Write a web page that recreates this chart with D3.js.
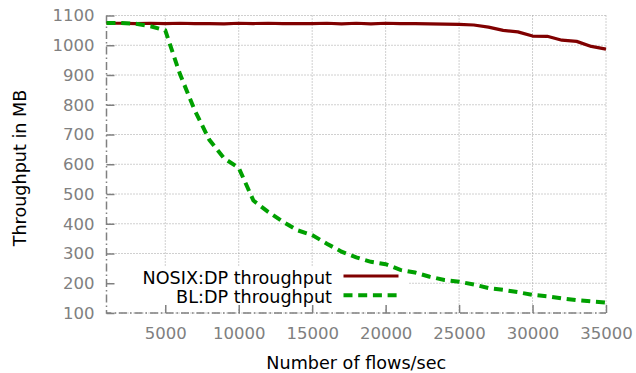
<!DOCTYPE html>
<html>
<head>
<meta charset="utf-8">
<script src="https://cdn.jsdelivr.net/npm/d3@7"></script>
<style>
  body { margin: 0; background: #fff; }
  svg { font-family: "DejaVu Sans", sans-serif; }
</style>
</head>
<body>
<div id="chart"></div>
<script>
// flows/sec sampled every 1000
const flows = [1000, 2000, 3000, 4000, 5000, 6000, 7000, 8000, 9000, 10000,
  11000, 12000, 13000, 14000, 15000, 16000, 17000, 18000, 19000, 20000,
  21000, 22000, 23000, 24000, 25000, 26000, 27000, 28000, 29000, 30000,
  31000, 32000, 33000, 34000, 35000];
const nosixThroughput = [1074, 1074, 1073, 1074, 1073, 1074, 1073, 1073, 1072, 1074,
  1073, 1074, 1073, 1073, 1073, 1074, 1072, 1074, 1072, 1074,
  1073, 1073, 1072, 1071, 1070, 1068, 1061, 1050, 1045, 1031,
  1030, 1017, 1013, 996, 987];
const blThroughput = [1075, 1075, 1072, 1064, 1050, 903, 782, 682, 620, 588,
  478, 440, 407, 378, 362, 333, 306, 287, 272, 264,
  245, 236, 222, 211, 205, 196, 184, 178, 170, 161,
  156, 149, 143, 139, 135];
const xTicks = [5000, 10000, 15000, 20000, 25000, 30000, 35000];
const yTicks = [100, 200, 300, 400, 500, 600, 700, 800, 900, 1000, 1100];
const seriesNames = ["NOSIX:DP throughput", "BL:DP throughput"];

const width = 636, height = 373;
const margin = { left: 106.5, right: 606, top: 15.5, bottom: 313 };
const axisGrey = "#808080";
const titleSize = "17.6px";

const x = d3.scaleLinear().domain([1000, 35000]).range([margin.left, margin.right]);
const y = d3.scaleLinear().domain([100, 1100]).range([margin.bottom, margin.top]);

const svg = d3.select("#chart").append("svg")
  .attr("width", width)
  .attr("height", height);

// grid
const grid = svg.append("g").attr("class", "grid");
grid.selectAll(".gy").data(yTicks).enter().append("line")
  .attr("x1", margin.left).attr("x2", margin.right)
  .attr("y1", d => y(d)).attr("y2", d => y(d))
  .attr("stroke", "#a0a0a0").attr("stroke-width", 1)
  .attr("stroke-dasharray", "1,2");
grid.selectAll(".gx").data(xTicks).enter().append("line")
  .attr("x1", d => x(d)).attr("x2", d => x(d))
  .attr("y1", margin.top).attr("y2", margin.bottom)
  .attr("stroke", "#a0a0a0").attr("stroke-width", 1)
  .attr("stroke-dasharray", "1,2");

// opaque key background
svg.append("rect")
  .attr("x", 110).attr("y", 266)
  .attr("width", 298).attr("height", 43)
  .attr("fill", "#fff");

// axes
const xAxis = d3.axisBottom(x).tickValues(xTicks).tickSize(-8).tickPadding(14).tickFormat(d3.format("d"));
const yAxis = d3.axisLeft(y).tickValues(yTicks).tickSize(-8).tickPadding(12).tickFormat(d3.format("d"));

const xg = svg.append("g").attr("transform", `translate(0,${margin.bottom})`).call(xAxis);
const yg = svg.append("g").attr("transform", `translate(${margin.left},0)`).call(yAxis);

[xg, yg].forEach(g => {
  g.select(".domain").remove();
  g.selectAll(".tick line").attr("stroke", axisGrey).attr("stroke-width", 1.5);
  g.selectAll(".tick text")
    .attr("fill", axisGrey)
    .style("font-size", "16.5px")
    .style("font-family", "'DejaVu Sans', sans-serif");
});

// border (left + bottom) dash-dot
svg.append("path")
  .attr("d", `M${margin.left},${margin.top}V${margin.bottom}H${margin.right}`)
  .attr("fill", "none")
  .attr("stroke", axisGrey).attr("stroke-width", 1.5)
  .attr("stroke-dasharray", "8,3,1.5,3");

// series lines
const line = (vals) => d3.line()
  .x((d, i) => x(flows[i]))
  .y(d => y(d))(vals);

svg.append("path")
  .attr("d", line(nosixThroughput))
  .attr("fill", "none")
  .attr("stroke", "#800000").attr("stroke-width", 3.2)
  .attr("stroke-linejoin", "round");

svg.append("path")
  .attr("d", line(blThroughput))
  .attr("fill", "none")
  .attr("stroke", "#00a000").attr("stroke-width", 4)
  .attr("stroke-dasharray", "9,5.7");

// key
const key = svg.append("g");
const keyTextY = [284, 302.7];
const keyLineY = [276, 295.3];
const keyStyles = [
  { color: "#800000", dash: null, w: 3.2 },
  { color: "#00a000", dash: "9,5.7", w: 4 }
];
seriesNames.forEach((name, i) => {
  key.append("text")
    .attr("x", 332).attr("y", keyTextY[i])
    .attr("text-anchor", "end")
    .style("font-size", titleSize)
    .attr("fill", "#000")
    .text(name);
  key.append("line")
    .attr("x1", 343.5).attr("x2", 398.5)
    .attr("y1", keyLineY[i]).attr("y2", keyLineY[i])
    .attr("stroke", keyStyles[i].color)
    .attr("stroke-width", keyStyles[i].w)
    .attr("stroke-dasharray", keyStyles[i].dash);
});

// axis titles
svg.append("text")
  .attr("x", (margin.left + margin.right) / 2).attr("y", 369)
  .attr("text-anchor", "middle")
  .style("font-size", titleSize)
  .text("Number of flows/sec");

svg.append("text")
  .attr("transform", "translate(25.5,168) rotate(-90)")
  .attr("text-anchor", "middle")
  .style("font-size", titleSize)
  .text("Throughput in MB");
</script>
</body>
</html>
